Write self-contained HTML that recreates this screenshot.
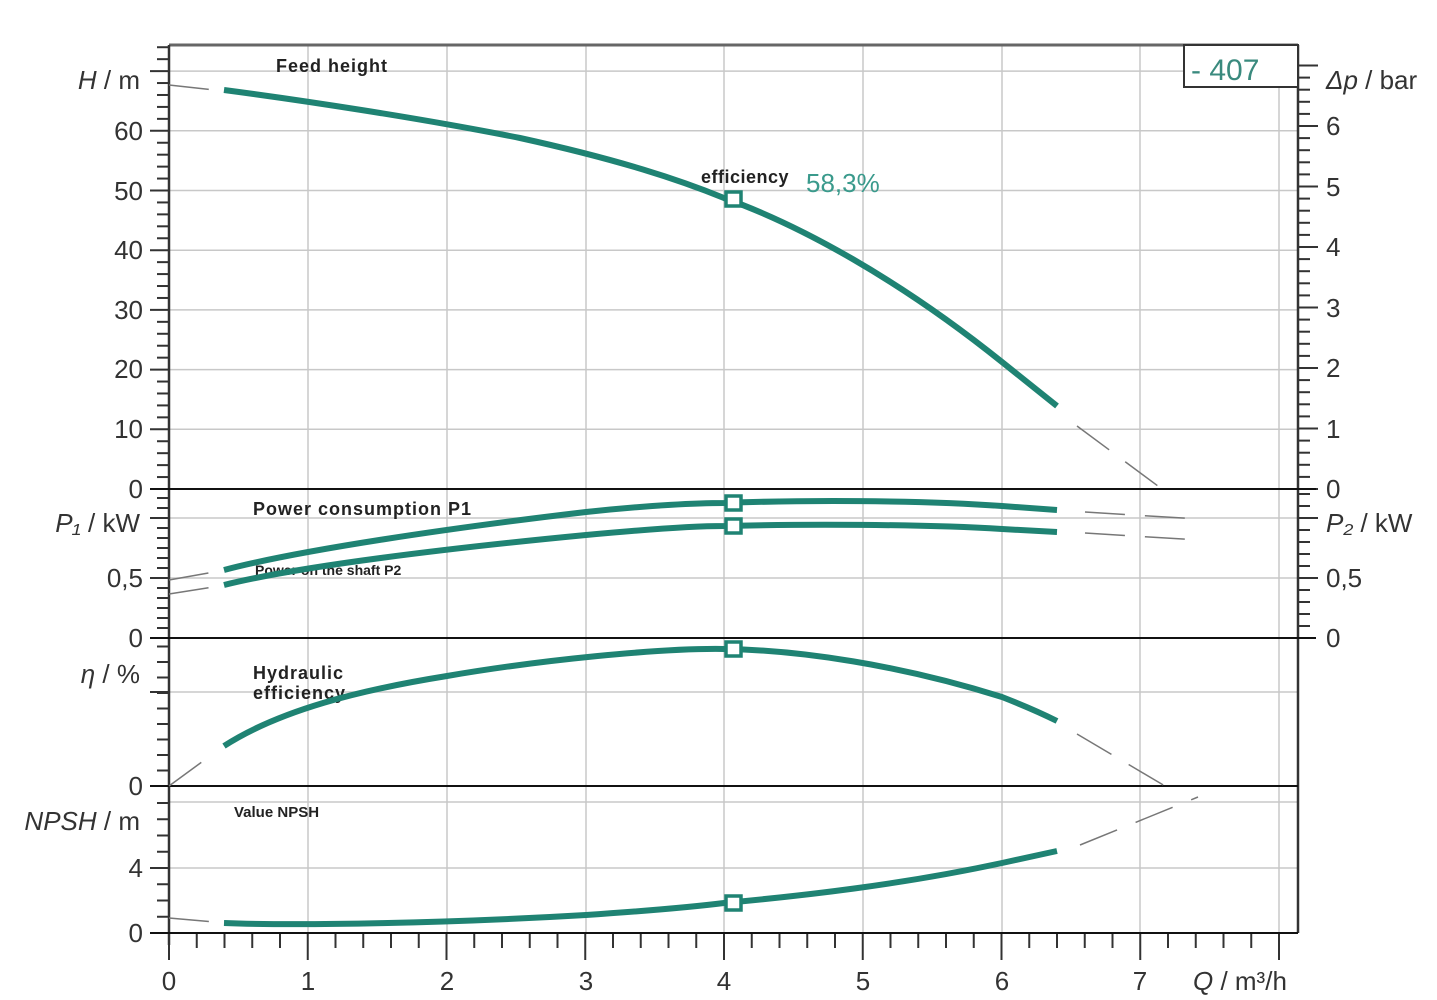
<!DOCTYPE html>
<html><head><meta charset="utf-8"><style>
html,body{margin:0;padding:0;background:#fff;}
svg{display:block;font-family:"Liberation Sans",sans-serif;}
</style></head><body>
<svg id="s" width="1437" height="1000" viewBox="0 0 1437 1000" xmlns="http://www.w3.org/2000/svg">
<g id="grid" stroke="#c8c8c8" stroke-width="1.5"></g>
<g id="ticks" stroke="#333" stroke-width="2"></g>
<line x1="169" y1="45" x2="1298" y2="45" stroke="#666" stroke-width="3"/>
<line x1="169" y1="45" x2="169" y2="945" stroke="#333" stroke-width="2.5"/>
<line x1="1298" y1="45" x2="1298" y2="933" stroke="#333" stroke-width="2.5"/>
<line x1="150" y1="489" x2="1316" y2="489" stroke="#111" stroke-width="2"/>
<line x1="150" y1="638" x2="1316" y2="638" stroke="#111" stroke-width="2"/>
<line x1="150" y1="786" x2="1298" y2="786" stroke="#111" stroke-width="2"/>
<line x1="150" y1="933" x2="1298" y2="933" stroke="#111" stroke-width="2"/>
<rect x="1184" y="45" width="114" height="42" fill="#fff" stroke="#333" stroke-width="2"/>
<text x="1191" y="80" font-size="30" fill="#3a8a7e">- 407</text>
<g font-size="26" fill="#333" text-anchor="end">
<text x="140" y="89" font-style="italic">H <tspan font-style="normal">/ m</tspan></text>
<text x="143" y="140">60</text><text x="143" y="200">50</text><text x="143" y="259">40</text>
<text x="143" y="319">30</text><text x="143" y="378">20</text><text x="143" y="438">10</text>
<text x="143" y="498">0</text>
<text x="140" y="532" font-style="italic">P₁ <tspan font-style="normal">/ kW</tspan></text>
<text x="143" y="587">0,5</text><text x="143" y="647">0</text>
<text x="140" y="683" font-style="italic">η <tspan font-style="normal">/ %</tspan></text>
<text x="143" y="795">0</text>
<text x="140" y="830" font-style="italic">NPSH <tspan font-style="normal">  / m</tspan></text>
<text x="143" y="877">4</text><text x="143" y="942">0</text>
</g>
<g font-size="26" fill="#333">
<text x="1326" y="89" font-style="italic">Δp <tspan font-style="normal">/ bar</tspan></text>
<text x="1326" y="135">6</text><text x="1326" y="196">5</text><text x="1326" y="256">4</text>
<text x="1326" y="317">3</text><text x="1326" y="377">2</text><text x="1326" y="438">1</text>
<text x="1326" y="498">0</text>
<text x="1326" y="532" font-style="italic">P₂ <tspan font-style="normal">/ kW</tspan></text>
<text x="1326" y="587">0,5</text><text x="1326" y="647">0</text>
</g>
<g font-size="26" fill="#333" text-anchor="middle">
<text x="169" y="990">0</text><text x="308" y="990">1</text><text x="447" y="990">2</text>
<text x="586" y="990">3</text><text x="724" y="990">4</text><text x="863" y="990">5</text>
<text x="1002" y="990">6</text><text x="1140" y="990">7</text>
</g>
<text x="1193" y="990" font-size="26" fill="#333" font-style="italic">Q <tspan font-style="normal">/ m³/h</tspan></text>
<g font-size="18" font-weight="bold" fill="#222" letter-spacing="1">
<text x="276" y="72">Feed height</text>
<text x="701" y="183" letter-spacing="0.5">efficiency</text>
<text x="253" y="515">Power consumption P1</text>
<text x="255" y="575" font-size="14" letter-spacing="0">Power on the shaft P2</text>
<text x="253" y="679">Hydraulic</text>
<text x="253" y="699">efficiency</text>
<text x="234" y="817" font-size="15" letter-spacing="0">Value NPSH</text>
</g>
<text x="806" y="192" font-size="26" fill="#3a9a8c">58,3%</text>
<g stroke="#777" stroke-width="1.5" fill="none" stroke-dasharray="40,20">
<path d="M169,85 L215,90"/>
<path d="M1077,426 L1162,489"/>
<path d="M169,580 L220,571"/><path d="M169,594 L220,586"/>
<path d="M1085,512 L1198,519"/><path d="M1085,533 L1198,540"/>
<path d="M169,786 L210,756"/><path d="M1077,734 L1165,786"/>
<path d="M169,918 L215,922"/><path d="M1080,845 L1198,797"/>
</g>
<g stroke="#1f8373" stroke-width="6" fill="none" stroke-linecap="butt">
<path d="M224,90 C300,100 420,118 520,138 C620,160 680,180 724,198 C800,225 900,280 1002,362 L1057,406"/>
<path d="M224,570 C300,550 450,528 586,512 C650,505 700,503 724,503 C800,500 920,500 1002,506 L1057,510"/>
<path d="M224,585 C300,566 450,548 586,535 C650,529 700,526 724,526 C800,524 920,524 1002,529 L1057,532"/>
<path d="M224,746 C280,710 360,690 447,676 C540,660 660,648 724,649 C800,650 900,665 1002,697 C1025,706 1045,715 1057,721"/>
<path d="M224,923 C300,926 450,923 586,915 C660,910 700,906 724,903 C800,896 900,885 1002,863 L1057,851"/>
</g>
<g stroke="#1f8373" stroke-width="3.5" fill="#fff">
<rect x="726" y="192" width="15" height="14"/>
<rect x="726" y="496" width="15" height="14"/>
<rect x="726" y="519" width="15" height="14"/>
<rect x="726" y="642" width="15" height="14"/>
<rect x="726" y="896" width="15" height="14"/>
</g>
</svg>
<script>
var NS="http://www.w3.org/2000/svg";
function L(g,x1,y1,x2,y2){var l=document.createElementNS(NS,"line");l.setAttribute("x1",x1);l.setAttribute("y1",y1);l.setAttribute("x2",x2);l.setAttribute("y2",y2);document.getElementById(g).appendChild(l);}
var xs=[308,447,586,724,863,1002,1140,1279];
xs.forEach(function(x){L("grid",x,45,x,933);});
for(var v=10;v<=70;v+=10){var y=489-v*5.97;L("grid",169,y,1298,y);}
L("grid",169,518,1298,518);L("grid",169,578,1298,578);
L("grid",169,692,1298,692);
L("grid",169,802,1298,802);L("grid",169,868,1298,868);
for(var v=0;v<=74;v+=2){var y=489-v*5.97;var maj=v%10==0;L("ticks",maj?150:157,y,169,y);}
for(var y=638;y>=489;y-=10){L("ticks",157,y,169,y);}
L("ticks",150,578,169,578);L("ticks",150,518,169,518);
for(var y=786;y>=638;y-=15.5){L("ticks",157,y,169,y);}
L("ticks",150,692,169,692);
for(var y=933;y>=790;y-=16.25){L("ticks",157,y,169,y);}
L("ticks",150,868,169,868);
for(var v=0;v<=7.2;v+=0.2){var y=489-v*60.5;var maj=Math.abs(v-Math.round(v))<0.01;L("ticks",1298,y,maj?1318:1310,y);}
for(var y=638;y>=489;y-=12){L("ticks",1298,y,1310,y);}
L("ticks",1298,578,1318,578);L("ticks",1298,518,1318,518);
for(var i=0;i<=40;i++){var x=169+i*27.75;var maj=i%5==0;L("ticks",x,933,x,maj?960:948);}
</script>
</body></html>
